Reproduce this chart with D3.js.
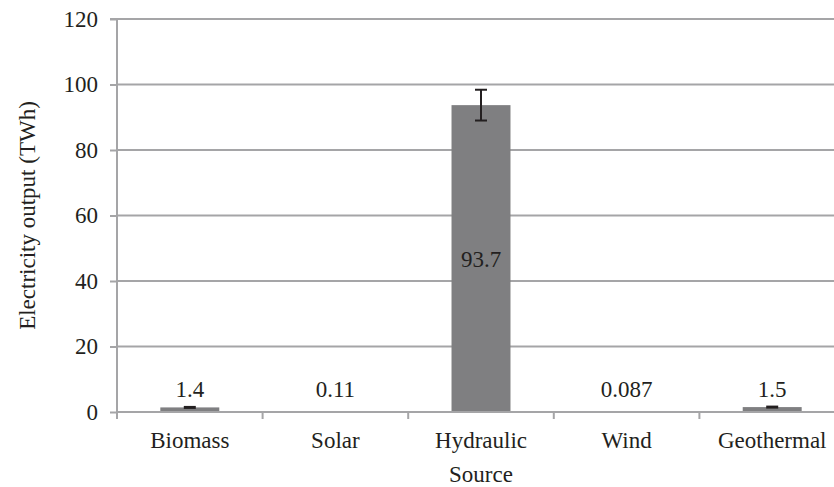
<!DOCTYPE html>
<html><head><meta charset="utf-8">
<script src="https://cdn.jsdelivr.net/npm/d3@7/dist/d3.min.js"></script>
<style>
html,body{margin:0;padding:0;background:#fff;}
svg text{font-family:"Liberation Serif","Tinos","Times New Roman","DejaVu Serif",serif !important;fill:#231f20;}
</style></head>
<body><svg id="c" width="834" height="487"></svg>
<script>
const categories = ["Biomass","Solar","Hydraulic","Wind","Geothermal"];
const values = [1.4, 0.11, 93.7, 0.087, 1.5];
const valueLabels = ["1.4","0.11","93.7","0.087","1.5"];
const errors = [0.2, 0, 4.7, 0, 0.2];
const yTicks = [0,20,40,60,80,100,120];

(function(){
const svg = d3.select("#c");
const pl = 117, pr = 845, pt = 19, pb = 412;
const fs = 23;
const ff = '"Liberation Serif","Tinos","Times New Roman","DejaVu Serif",serif';

const x = d3.scaleBand().domain(categories).range([pl, pr]).paddingInner(0).paddingOuter(0);
const y = d3.scaleLinear().domain([0,120]).range([pb, pt]);

// gridlines
svg.append("g").selectAll("line").data(yTicks.filter(d=>d>0)).join("line")
  .attr("x1", pl).attr("x2", pr)
  .attr("y1", d=>y(d)).attr("y2", d=>y(d))
  .attr("stroke","#a5a5a7").attr("stroke-width",2);

// y axis
const yAxis = d3.axisLeft(y).tickValues(yTicks).tickSize(7).tickPadding(12);
const gy = svg.append("g").attr("transform",`translate(${pl},0)`).call(yAxis);
gy.attr("font-family",ff).attr("font-size",fs);
gy.select(".domain").attr("stroke","#a5a5a7").attr("stroke-width",2).attr("d",`M-7,${pt}H0V${pb}`);
gy.selectAll(".tick line").attr("stroke","#a5a5a7").attr("stroke-width",2);
gy.selectAll(".tick text").attr("fill","#231f20");

// bars
const bw = x.bandwidth()*0.405;
svg.append("g").selectAll("rect").data(values).join("rect")
  .attr("x",(d,i)=>x(categories[i])+x.bandwidth()/2-bw/2)
  .attr("width",bw)
  .attr("y",d=>y(d))
  .attr("height",d=>Math.max(y(0)-y(d),0.6))
  .attr("fill","#7f7f81");

// error bars
const eg = svg.append("g").attr("stroke","#231f20").attr("stroke-width",2);
values.forEach((v,i)=>{
  const e = errors[i]; if(!e) return;
  const cx = x(categories[i])+x.bandwidth()/2;
  const y1 = y(v+e), y2 = y(v-e);
  if (y2-y1 > 4) {
    eg.append("line").attr("x1",cx).attr("x2",cx).attr("y1",y1).attr("y2",y2);
    eg.append("line").attr("x1",cx-6).attr("x2",cx+6).attr("y1",y1).attr("y2",y1);
    eg.append("line").attr("x1",cx-6).attr("x2",cx+6).attr("y1",y2).attr("y2",y2);
  } else {
    eg.append("line").attr("x1",cx-6).attr("x2",cx+6).attr("y1",(y1+y2)/2).attr("y2",(y1+y2)/2).attr("stroke-width",3);
  }
});

// x axis
const xAxis = d3.axisBottom(x).tickSize(0).tickPadding(20);
const gx = svg.append("g").attr("transform",`translate(0,${pb})`).call(xAxis);
gx.attr("font-family",ff).attr("font-size",fs);
gx.select(".domain").attr("stroke","#a5a5a7").attr("stroke-width",2).attr("d",`M${pl},0H${pr}`);
gx.selectAll(".tick text").attr("fill","#231f20");
// category boundary ticks
svg.append("g").selectAll("line").data(categories).join("line")
  .attr("x1",d=>x(d)).attr("x2",d=>x(d))
  .attr("y1",pb).attr("y2",pb+7)
  .attr("stroke","#a5a5a7").attr("stroke-width",2);

// value labels
svg.append("g").attr("font-family",ff).selectAll("text").data(values).join("text")
  .attr("x",(d,i)=>x(categories[i])+x.bandwidth()/2)
  .attr("y",d=> d>10 ? (y(d)+y(0))/2 + 8 : 397)
  .attr("text-anchor","middle").attr("font-size",fs)
  .text((d,i)=>valueLabels[i]);

// axis titles
svg.append("text").attr("font-family",ff).attr("x",(pl+pr)/2).attr("y",482)
  .attr("text-anchor","middle").attr("font-size",fs).text("Source");
svg.append("text").attr("font-family",ff).attr("transform",`translate(35,${(pt+pb)/2}) rotate(-90)`)
  .attr("text-anchor","middle").attr("font-size",fs).text("Electricity output (TWh)");
})();
</script></body></html>
